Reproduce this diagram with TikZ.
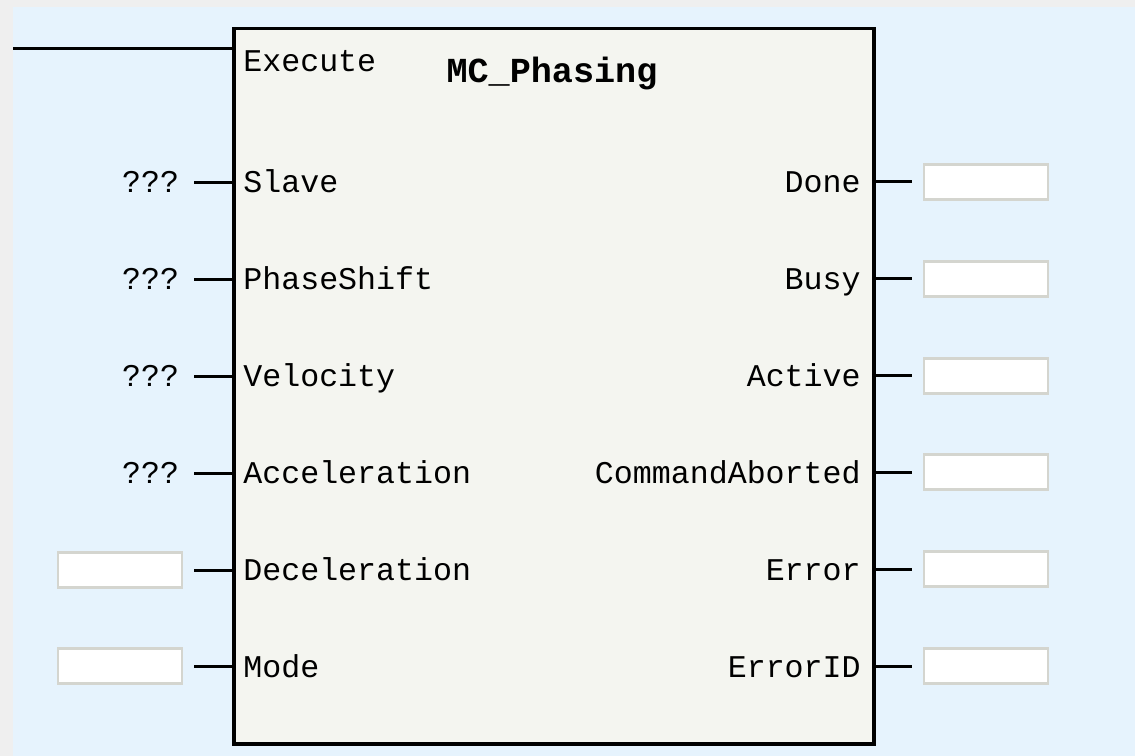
\documentclass[tikz,border=0pt]{standalone}
\usepackage{fontspec}
\setmonofont{Liberation Mono}
\usetikzlibrary{positioning}
\definecolor{panel}{HTML}{E6F3FD}
\definecolor{frame}{HTML}{EFEFEF}
\definecolor{fbfill}{HTML}{F4F5F0}
\definecolor{slotline}{HTML}{D4D5CF}

\begin{document}
\begin{tikzpicture}[
  x=0.02cm, y=-0.02cm,
  font=\ttfamily\fontsize{18}{20}\selectfont,
  fb/.style={draw, line width=3.5*0.02cm, fill=fbfill, inner sep=0pt},
  pinl/.style={anchor=base west, inner sep=0pt},
  pinr/.style={anchor=base east, inner sep=0pt},
  qmark/.style={anchor=base east, inner sep=0pt, outer xsep=15*0.02cm},
  slot/.style={draw=slotline, line width=2.5*0.02cm, fill=white, minimum width=124*0.02cm, minimum height=35*0.02cm, inner sep=0pt, outer xsep=12*0.02cm},
  wire/.style={line width=3*0.02cm, draw=black}
]
% background
\fill[frame] (0,0) rectangle (1135,756);
\fill[panel] (13,7) rectangle (1135,756);
\useasboundingbox (0,0) rectangle (1135,756);

% function block
\node[fb, minimum width=640*0.02cm, minimum height=715*0.02cm, anchor=north west] (block) at (232,27) {};
\node[font=\ttfamily\bfseries\fontsize{20}{22}\selectfont, anchor=base, inner sep=0pt] (title) at (552,83) {MC\_Phasing};

% inputs
\coordinate (exec) at (13,49);
\node[pinl] (pExecute) at (243,72) {Execute};
\node[pinl] (pSlave) at (243,193) {Slave};
\node[pinl] (pPhaseShift) at (243,290) {PhaseShift};
\node[pinl] (pVelocity) at (243,387) {Velocity};
\node[pinl] (pAcceleration) at (243,483) {Acceleration};
\node[pinl] (pDeceleration) at (243,580) {Deceleration};
\node[pinl] (pMode) at (243,677) {Mode};

\node[qmark] (vSlave) at (194,193) {???};
\node[qmark] (vPhaseShift) at (194,290) {???};
\node[qmark] (vVelocity) at (194,387) {???};
\node[qmark] (vAcceleration) at (194,483) {???};
\node[slot] (vDeceleration) at (120,570) {};
\node[slot] (vMode) at (120,666) {};

\draw[wire] (exec) -- (exec -| block.west);
\draw[wire] (vSlave.east |- 0,183) -- (block.west |- 0,183);
\draw[wire] (vPhaseShift.east |- 0,280) -- (block.west |- 0,280);
\draw[wire] (vVelocity.east |- 0,377) -- (block.west |- 0,377);
\draw[wire] (vAcceleration.east |- 0,473) -- (block.west |- 0,473);
\draw[wire] (vDeceleration.east) -- (vDeceleration -| block.west);
\draw[wire] (vMode.east) -- (vMode -| block.west);

% outputs
\node[pinr] (pDone) at (861,193) {Done};
\node[pinr] (pBusy) at (861,290) {Busy};
\node[pinr] (pActive) at (861,387) {Active};
\node[pinr] (pAborted) at (861,483) {CommandAborted};
\node[pinr] (pError) at (861,580) {Error};
\node[pinr] (pErrorID) at (861,677) {ErrorID};

\node[slot] (oDone) at (986,182) {};
\node[slot] (oBusy) at (986,279) {};
\node[slot] (oActive) at (986,376) {};
\node[slot] (oAborted) at (986,472) {};
\node[slot] (oError) at (986,569) {};
\node[slot] (oErrorID) at (986,666) {};

\draw[wire] (oDone -| block.east) -- (oDone.west);
\draw[wire] (oBusy -| block.east) -- (oBusy.west);
\draw[wire] (oActive -| block.east) -- (oActive.west);
\draw[wire] (oAborted -| block.east) -- (oAborted.west);
\draw[wire] (oError -| block.east) -- (oError.west);
\draw[wire] (oErrorID -| block.east) -- (oErrorID.west);
\end{tikzpicture}
\end{document}
